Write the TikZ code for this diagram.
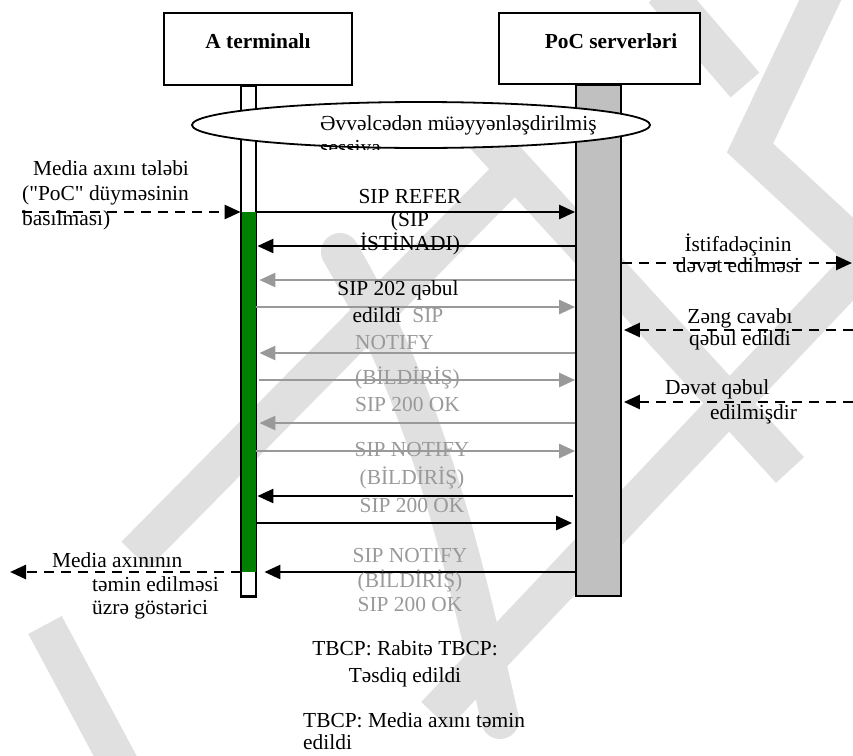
\documentclass[tikz,border=0pt]{standalone}
\usepackage{fontspec}
\setmainfont{Liberation Serif}
\usetikzlibrary{arrows.meta,shapes.geometric,positioning}
\definecolor{actgreen}{RGB}{0,128,0}
\definecolor{srvgray}{RGB}{192,192,192}
\definecolor{msggray}{RGB}{153,153,153}
\definecolor{wmgray}{RGB}{224,224,224}
\newcommand{\diafont}{\fontsize{21.4}{23.5}\selectfont}

\tikzset{
  hbox/.style={draw, line width=1.8pt, fill=white, inner sep=0pt},
  htxt/.style={font=\diafont\bfseries, inner sep=0pt},
  life/.style={draw, line width=1.8pt, inner sep=0pt},
  txt/.style={inner sep=0pt, align=center},
  msg/.style={line width=2.6pt, -{Triangle[length=16pt,width=14pt]}},
  gmsg/.style={msg, msggray},
  ext/.style={msg, dash pattern=on 10pt off 7pt},
  wm/.style={line width=38pt, wmgray},
}

\begin{document}
\begin{tikzpicture}[x=1pt,y=-1pt,font=\diafont]
\useasboundingbox (0,0) rectangle (853,755);
% watermark
\draw[wm] (135,555) -- (520,165);
\draw[wm, line cap=round] (340,252) .. controls (420,390) and (455,520) .. (500,720);
\draw[wm] (470,120) -- (790,470);
\draw[wm] (435,715) -- (870,255);
\draw[wm] (663,-10) -- (745,85);
\draw[wm] (825,-10) -- (750,148) -- (860,250);
\draw[wm] (45,625) -- (120,765);

% heads and lifelines
\node[hbox, minimum width=188pt, minimum height=72pt] (hA) at (258,49) {};
\node[htxt] (hAt) at (258,41) {A terminalı};
\node[hbox, minimum width=201pt, minimum height=71pt] (hP) at (599.5,48.5) {};
\node[htxt] (hPt) at (611,41) {PoC serverləri};
\node[life, fill=white, minimum width=14pt, minimum height=510pt, anchor=north] (lA) at (248.5,85) {};
\node[life, fill=srvgray, minimum width=45pt, minimum height=511pt, anchor=north] (lP) at (598.5,84) {};
\fill[actgreen] (lA.west |- 0,212) rectangle (lA.east |- 0,572);
\draw[line width=1.8pt] (lA.north west) rectangle (lA.south east);

% session
\node[draw, ellipse, line width=1.8pt, fill=white, minimum width=458pt, minimum height=46pt, inner sep=0pt] (sess) at (421,125) {};
\node[inner sep=0pt, anchor=base west] (sesst) at (320,130) {Əvvəlcədən müəyyənləşdirilmiş};
\begin{scope}
\clip (300,100) rectangle (660,149);
\node[inner sep=0pt, anchor=base west] (sesst2) at (320,154) {sessiya};
\end{scope}

% messages
\draw[msg] (lA.east |- 0,212) -- (lP.west |- 0,212);
\draw[msg, shorten >=1pt] (lP.west |- 0,246) -- (lA.east |- 0,246);
\draw[gmsg, shorten >=3pt] (lP.west |- 0,280) -- (lA.east |- 0,280);
\draw[gmsg] (lA.east |- 0,307) -- (lP.west |- 0,307);
\draw[gmsg, shorten >=3pt] (lP.west |- 0,353) -- (lA.east |- 0,353);
\draw[gmsg, shorten <=3pt] (lA.east |- 0,380) -- (lP.west |- 0,380);
\draw[gmsg, shorten >=3pt] (lP.west |- 0,423) -- (lA.east |- 0,423);
\draw[gmsg] (lA.east |- 0,451) -- (lP.west |- 0,451);
\draw[msg, shorten >=1pt, shorten <=2pt] (lP.west |- 0,496) -- (lA.east |- 0,496);
\draw[msg, shorten >=3pt] (lA.east |- 0,523) -- (lP.west |- 0,523);
\draw[msg, shorten >=8pt] (lP.west |- 0,572) -- (lA.east |- 0,572);

% outside requests
\coordinate (reqS) at (22,212);
\coordinate (invE) at (852,263);
\coordinate (ansS) at (853,330);
\coordinate (accS) at (853,402);
\coordinate (indE) at (10,572);
\draw[ext] (reqS) -- (lA.west |- reqS);
\draw[ext] (lP.east |- invE) -- (invE);
\draw[ext, shorten >=2pt] (ansS) -- (lP.east |- ansS);
\draw[ext, shorten >=2pt] (accS) -- (lP.east |- accS);
\draw[ext] (lA.west |- indE) -- (indE);

% labels
\node[txt, align=left, anchor=west] (lReq) at (22,195) {\hspace{11pt}Media axını tələbi\\[1.5pt](\textquotedbl PoC\textquotedbl{} düyməsinin\\[1.5pt]basılması)};
\node[txt] (lRef) at (410,222) {SIP REFER\\(SIP\\İSTİNADI)};
\node[txt] (l202) at (398,302) {SIP 202 qəbul\\[3.5pt]edildi\hspace{11pt}\textcolor{msggray}{SIP}};
\node[txt, align=left, anchor=west, msggray] (lNot1) at (355,374) {NOTIFY\\[11.5pt](BİLDİRİŞ)\\[3.5pt]SIP 200 OK};
\node[txt, msggray] (lNot2) at (412,478) {SIP NOTIFY\\[4.5pt](BİLDİRİŞ)\\[4.5pt]SIP 200 OK};
\node[txt, msggray] (lNot3) at (410,580) {SIP NOTIFY\\[1.5pt](BİLDİRİŞ)\\SIP 200 OK};
\node[txt] (lTb1) at (405,664) {TBCP: Rabitə TBCP:\\[3.5pt]Təsdiq edildi};
\node[txt, align=left, anchor=west] (lTb2) at (303,731) {TBCP: Media axını təmin\\[-1.5pt]edildi};
\node[txt] (lInv) at (738,253) {İstifadəçinin\\[-2.5pt]dəvət edilməsi};
\node[txt] (lAns) at (740,329) {Zəng cavabı\\[-1.5pt]qəbul edildi};
\node[txt, align=left, anchor=west] (lAcc) at (665,402) {Dəvət qəbul\\[1.5pt]\hspace{45pt}edilmişdir};
\node[txt, align=left, anchor=west] (lInd) at (52,586) {Media axınının\\\hspace{40pt}təmin edilməsi\\\hspace{40pt}üzrə göstərici};
\end{tikzpicture}
\end{document}
